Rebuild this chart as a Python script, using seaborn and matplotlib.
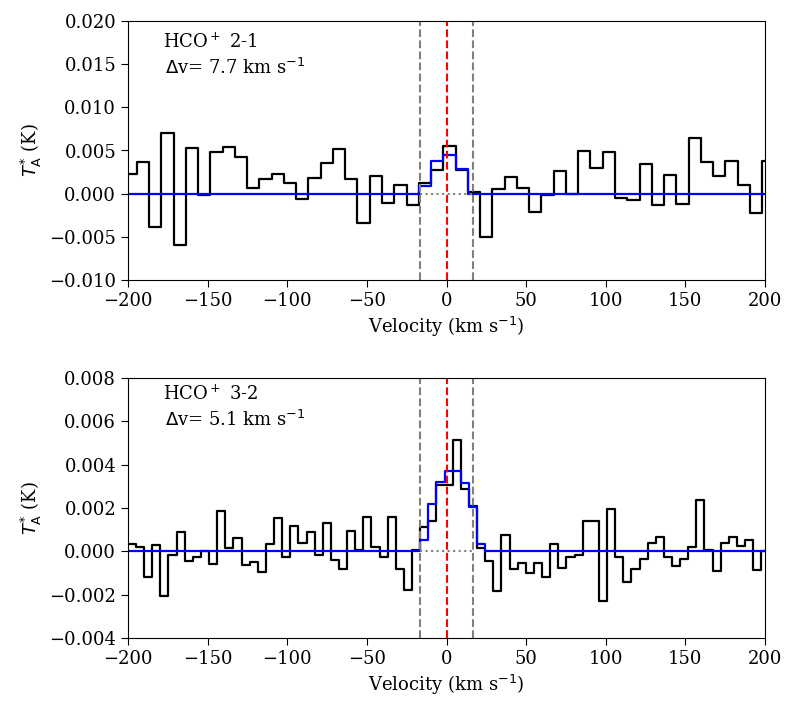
import numpy as np
import pandas as pd
import matplotlib
matplotlib.use("Agg")
import matplotlib.pyplot as plt
import seaborn as sns

# HCO+ 2-1 : channel width 7.7 km/s, first channel centre (one extra channel off the left edge)
v0_21 = -206.05
dv_21 = 7.7
T_21 = [0.0023,
        0.0023, 0.00365, -0.00385, 0.00704, -0.0060, 0.00527, -0.0001, 0.00485, 0.00535, 0.0043,
        0.00065, 0.0017, 0.0023, 0.0012, -0.0006, 0.0018, 0.0036, 0.0052, 0.00165, -0.0034,
        0.0020, -0.0011, 0.0010, -0.0013, 0.0012, 0.0027, 0.0055,
        0.0027, 0.00015, -0.0050, 0.0005, 0.0019, 0.0006, -0.0021, -0.0001, 0.0026, 0.0,
        0.0049, 0.0030, 0.0048, -0.0005, -0.0007, 0.0034, -0.0013, 0.0022, -0.0012, 0.0065,
        0.0037, 0.0020, 0.0038, 0.0010, -0.0022, 0.0038]
fit_21 = [0.0] * 25 + [0.00092, 0.00373, 0.00447, 0.00285] + [0.0] * 25

# HCO+ 3-2 : channel width 5.1 km/s
v0_32 = -202.65
dv_32 = 5.1
T_32 = [0.00035,
        0.00035, 0.00018, -0.00118, 0.00029, -0.00208, -0.00017, 0.0009, -0.00046, -0.00028, 0.0,
        -0.00058, 0.00187, 0.00015, 0.0006, -0.00063, -0.00048, -0.00097, 0.00032, 0.00152, -0.00028,
        0.00115, 0.00038, 0.0009, -0.00015, 0.0013, -0.0004, -0.0008, 0.00093, 0.00006, 0.0016,
        0.0002, -0.00025, 0.0016, -0.0008, -0.0018, 0.00008, 0.00113, 0.00142, 0.00305, 0.00305,
        0.00512, 0.00288, 0.00208, 0.00015, -0.00043, -0.00182, 0.00074, -0.00083, -0.00055, -0.00101,
        -0.00055, -0.0012, 0.00035, -0.00077, -0.00025, -0.00018, 0.00141, 0.00138, -0.00231, 0.00195,
        -0.00026, -0.00141, -0.00082, -0.00037, 0.00037, 0.00064, -0.00026, -0.00067, -0.00034, 0.00022,
        0.00236, 0.00006, -0.00092, 0.00038, 0.00064, 0.00024, 0.00054, -0.00088, 0.00002]
fit_32 = [0.0] * 37 + [0.00054, 0.00218, 0.00322, 0.00373, 0.00371, 0.00316, 0.00205, 0.00034] + [0.0] * 35

panels = [
    dict(line="HCO$^+$ 2-1", dvtxt=r"$\Delta$v= 7.7 km s$^{-1}$", v0=v0_21, dv=dv_21, T=T_21, fit=fit_21,
         ylim=(-0.010, 0.020), ystep=0.005, txty=(0.92, 0.82)),
    dict(line="HCO$^+$ 3-2", dvtxt=r"$\Delta$v= 5.1 km s$^{-1}$", v0=v0_32, dv=dv_32, T=T_32, fit=fit_32,
         ylim=(-0.004, 0.008), ystep=0.002, txty=(0.94, 0.84)),
]
v_edge = 16.4  # integration window

sns.set_style("ticks")
plt.rcParams["font.family"] = ["DejaVu Serif"]
plt.rcParams["font.size"] = 13
plt.rcParams["xtick.major.size"] = 5
plt.rcParams["ytick.major.size"] = 5
for key in ["axes.edgecolor", "xtick.color", "ytick.color", "axes.labelcolor", "text.color"]:
    plt.rcParams[key] = "black"

fig = plt.figure(figsize=(7.97, 7.13), dpi=100)
boxes = [[128 / 797, 1 - 280 / 713, 637 / 797, 259 / 713],
         [128 / 797, 1 - 638 / 713, 637 / 797, 260 / 713]]

for box, p in zip(boxes, panels):
    ax = fig.add_axes(box)
    vel = p["v0"] + p["dv"] * np.arange(len(p["T"]))
    df = pd.DataFrame({"v": vel, "T": p["T"], "fit": p["fit"]})
    sns.lineplot(data=df, x="v", y="T", ax=ax, color="black", lw=1.6,
                 drawstyle="steps-mid", estimator=None, sort=False)
    sns.lineplot(data=df, x="v", y="fit", ax=ax, color="blue", lw=1.6,
                 drawstyle="steps-mid", estimator=None, sort=False)
    ax.plot([-v_edge, v_edge], [0, 0], ls=":", color="grey", lw=1.5)
    ax.axvline(-v_edge, ls="--", color="grey", lw=1.5)
    ax.axvline(v_edge, ls="--", color="grey", lw=1.5)
    ax.axvline(0, ls="--", color="red", lw=1.5)
    ax.set_xlim(-200, 200)
    ax.set_ylim(*p["ylim"])
    ax.set_xticks(np.arange(-200, 201, 50))
    ax.set_yticks(np.arange(p["ylim"][0], p["ylim"][1] + p["ystep"] / 2, p["ystep"]))
    ax.set_xlabel("Velocity (km s$^{-1}$)")
    ax.set_ylabel(r"$T_{\rm A}^{*}$ (K)")
    ax.text(0.055, p["txty"][0], p["line"], transform=ax.transAxes, va="center", ha="left")
    ax.text(0.058, p["txty"][1], p["dvtxt"], transform=ax.transAxes, va="center", ha="left")

fig.savefig("out.png", dpi=100)
